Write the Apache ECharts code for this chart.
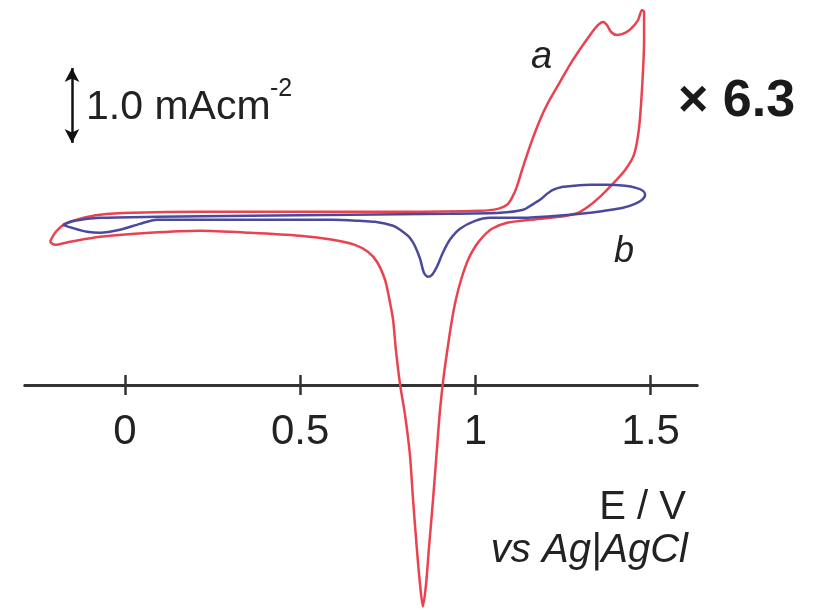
<!DOCTYPE html>
<html>
<head>
<meta charset="utf-8">
<title>CV</title>
<script src="https://cdn.jsdelivr.net/npm/echarts@6/dist/echarts.min.js"></script>
<style>
  html, body { margin: 0; padding: 0; background: #fff; }
  #chart { width: 814px; height: 610px; }
</style>
</head>
<body>
<div id="chart"></div>
<script>
// curve a (red): potential E / V and current density j / mA cm-2, in sweep order
const redE = [-0.214, -0.197, -0.171, -0.128, -0.071, 0.023, 0.214, 0.499, 0.785, 1.013, 1.064, 1.090, 1.104, 1.118, 1.133, 1.147, 1.164, 1.184, 1.204, 1.233, 1.278, 1.327, 1.350, 1.364, 1.375, 1.387, 1.404, 1.427, 1.446, 1.464, 1.475, 1.481,
  1.481, 1.475, 1.466, 1.452, 1.427, 1.389, 1.355, 1.321, 1.292, 1.241, 1.156, 1.090, 1.047, 1.021, 0.999, 0.979, 0.959, 0.944, 0.933, 0.922, 0.910, 0.899, 0.890, 0.879, 0.867, 0.859, 0.850,
  0.842, 0.833, 0.822, 0.813, 0.799, 0.785, 0.773, 0.765, 0.753, 0.742, 0.719, 0.693, 0.656, 0.593, 0.499, 0.357, 0.214, 0.071, -0.071, -0.157, -0.200, -0.214]
const redJ = [-0.387, -0.253, -0.147, -0.080, -0.027, 0.000, 0.013, 0.013, 0.013, 0.027, 0.053, 0.107, 0.200, 0.347, 0.573, 0.773, 1.000, 1.240, 1.440, 1.680, 2.040, 2.373, 2.507, 2.547, 2.507, 2.413, 2.373, 2.400, 2.467, 2.573, 2.707, 2.680,
  2.307, 1.640, 1.107, 0.773, 0.573, 0.373, 0.213, 0.080, 0.000, -0.053, -0.093, -0.133, -0.213, -0.320, -0.453, -0.627, -0.893, -1.160, -1.427, -1.760, -2.160, -2.627, -3.160, -3.827, -4.493, -4.960, -5.253,
  -4.960, -4.493, -3.827, -3.227, -2.693, -2.293, -1.827, -1.427, -1.120, -0.893, -0.653, -0.520, -0.427, -0.360, -0.307, -0.267, -0.240, -0.267, -0.320, -0.387, -0.427, -0.387]

// curve b (blue)
const blueE = [-0.177, -0.143, -0.071, 0.091, 0.357, 0.642, 0.927, 1.070, 1.136, 1.161, 1.184, 1.204, 1.221, 1.250, 1.278, 1.327, 1.375, 1.427, 1.458, 1.478, 1.484,
  1.475, 1.455, 1.421, 1.369, 1.327, 1.233, 1.136, 1.041, 0.999, 0.956, 0.927, 0.907, 0.890, 0.876, 0.864, 0.853, 0.842, 0.827, 0.813, 0.785, 0.765, 0.713, 0.670, 0.593, 0.214, 0.091, 0.043, -0.014, -0.071, -0.108, -0.151, -0.177]
const blueJ = [-0.160, -0.107, -0.067, -0.053, -0.040, -0.027, -0.013, 0.000, 0.040, 0.107, 0.173, 0.253, 0.307, 0.347, 0.360, 0.373, 0.373, 0.360, 0.333, 0.293, 0.240,
  0.173, 0.120, 0.067, 0.027, 0.000, -0.040, -0.067, -0.067, -0.107, -0.213, -0.360, -0.533, -0.720, -0.827, -0.853, -0.800, -0.613, -0.440, -0.333, -0.227, -0.173, -0.120, -0.107, -0.093, -0.093, -0.093, -0.147, -0.227, -0.267, -0.253, -0.200, -0.160]

// x axis ticks
const tickValues = [0, 0.5, 1, 1.5]

// scale bar: 1.0 mA cm-2
const barE = -0.151
const barFrom = 0.933
const barLen = 1.0

const zip = (xs, ys) => xs.map((x, i) => [x, ys[i]])

const chartInstance = echarts.init(document.getElementById('chart'))

// the E axis sits inside the plot, so it is pulled up with a negative offset
const axisBase = {
  type: 'value',
  min: -0.285,
  max: 1.632,
  position: 'bottom',
  offset: -225,
  splitLine: { show: false },
  axisLine: { show: true, onZero: false, lineStyle: { color: '#333', width: 3 } }
}

const option = {
  animation: false,
  backgroundColor: '#fff',
  grid: { left: 25, right: 117, top: 0, bottom: 0 },
  xAxis: [
    Object.assign({}, axisBase, {
      axisTick: { show: true, inside: false, length: 10, customValues: tickValues, lineStyle: { color: '#333', width: 2.5 } },
      axisLabel: {
        show: true,
        customValues: tickValues,
        margin: 26,
        color: '#222',
        fontSize: 42,
        fontFamily: 'Liberation Sans, Arial, sans-serif'
      }
    }),
    // second copy only for the ticks that point upward
    Object.assign({}, axisBase, {
      axisTick: { show: true, inside: true, length: 10, customValues: tickValues, lineStyle: { color: '#333', width: 2.5 } },
      axisLabel: { show: false }
    })
  ],
  yAxis: {
    type: 'value',
    min: -5.3,
    max: 2.84,
    show: false
  },
  series: [
    {
      name: 'a',
      type: 'line',
      data: zip(redE, redJ),
      showSymbol: false,
      smooth: 0.25,
      lineStyle: { color: '#e8434f', width: 2.5 },
      markLine: {
        silent: true,
        symbol: ['arrow', 'arrow'],
        symbolSize: [11, 14],
        label: { show: false },
        lineStyle: { color: '#111', width: 2.5, type: 'solid' },
        data: [[{ coord: [barE, barFrom] }, { coord: [barE, barFrom + barLen] }]]
      }
    },
    {
      name: 'b',
      type: 'line',
      data: zip(blueE, blueJ),
      showSymbol: false,
      smooth: 0.25,
      lineStyle: { color: '#4a4a9c', width: 2.5 }
    }
  ],
  graphic: [
    { type: 'text', left: 86, top: 87, style: { text: '1.0 mAcm', fontSize: 41, fontFamily: 'Liberation Sans, Arial', fill: '#222' } },
    { type: 'text', left: 270, top: 77, style: { text: '-2', fontSize: 25, fontFamily: 'Liberation Sans, Arial', fill: '#222' } },
    { type: 'text', left: 678, top: 76, style: { text: '× 6.3', fontSize: 52, fontWeight: 'bold', fontFamily: 'Liberation Sans, Arial', fill: '#1a1a1a' } },
    { type: 'text', left: 531, top: 38, style: { text: 'a', fontSize: 38, fontStyle: 'italic', fontFamily: 'Liberation Sans, Arial', fill: '#222' } },
    { type: 'text', left: 614, top: 234, style: { text: 'b', fontSize: 36, fontStyle: 'italic', fontFamily: 'Liberation Sans, Arial', fill: '#222' } },
    { type: 'text', right: 128, top: 488, style: { text: 'E / V', fontSize: 40, fontFamily: 'Liberation Sans, Arial', fill: '#222' } },
    { type: 'text', right: 126, top: 531, style: { text: 'vs Ag|AgCl', fontSize: 40, fontStyle: 'italic', fontFamily: 'Liberation Sans, Arial', fill: '#222' } }
  ]
}

chartInstance.setOption(option)
</script>
</body>
</html>
